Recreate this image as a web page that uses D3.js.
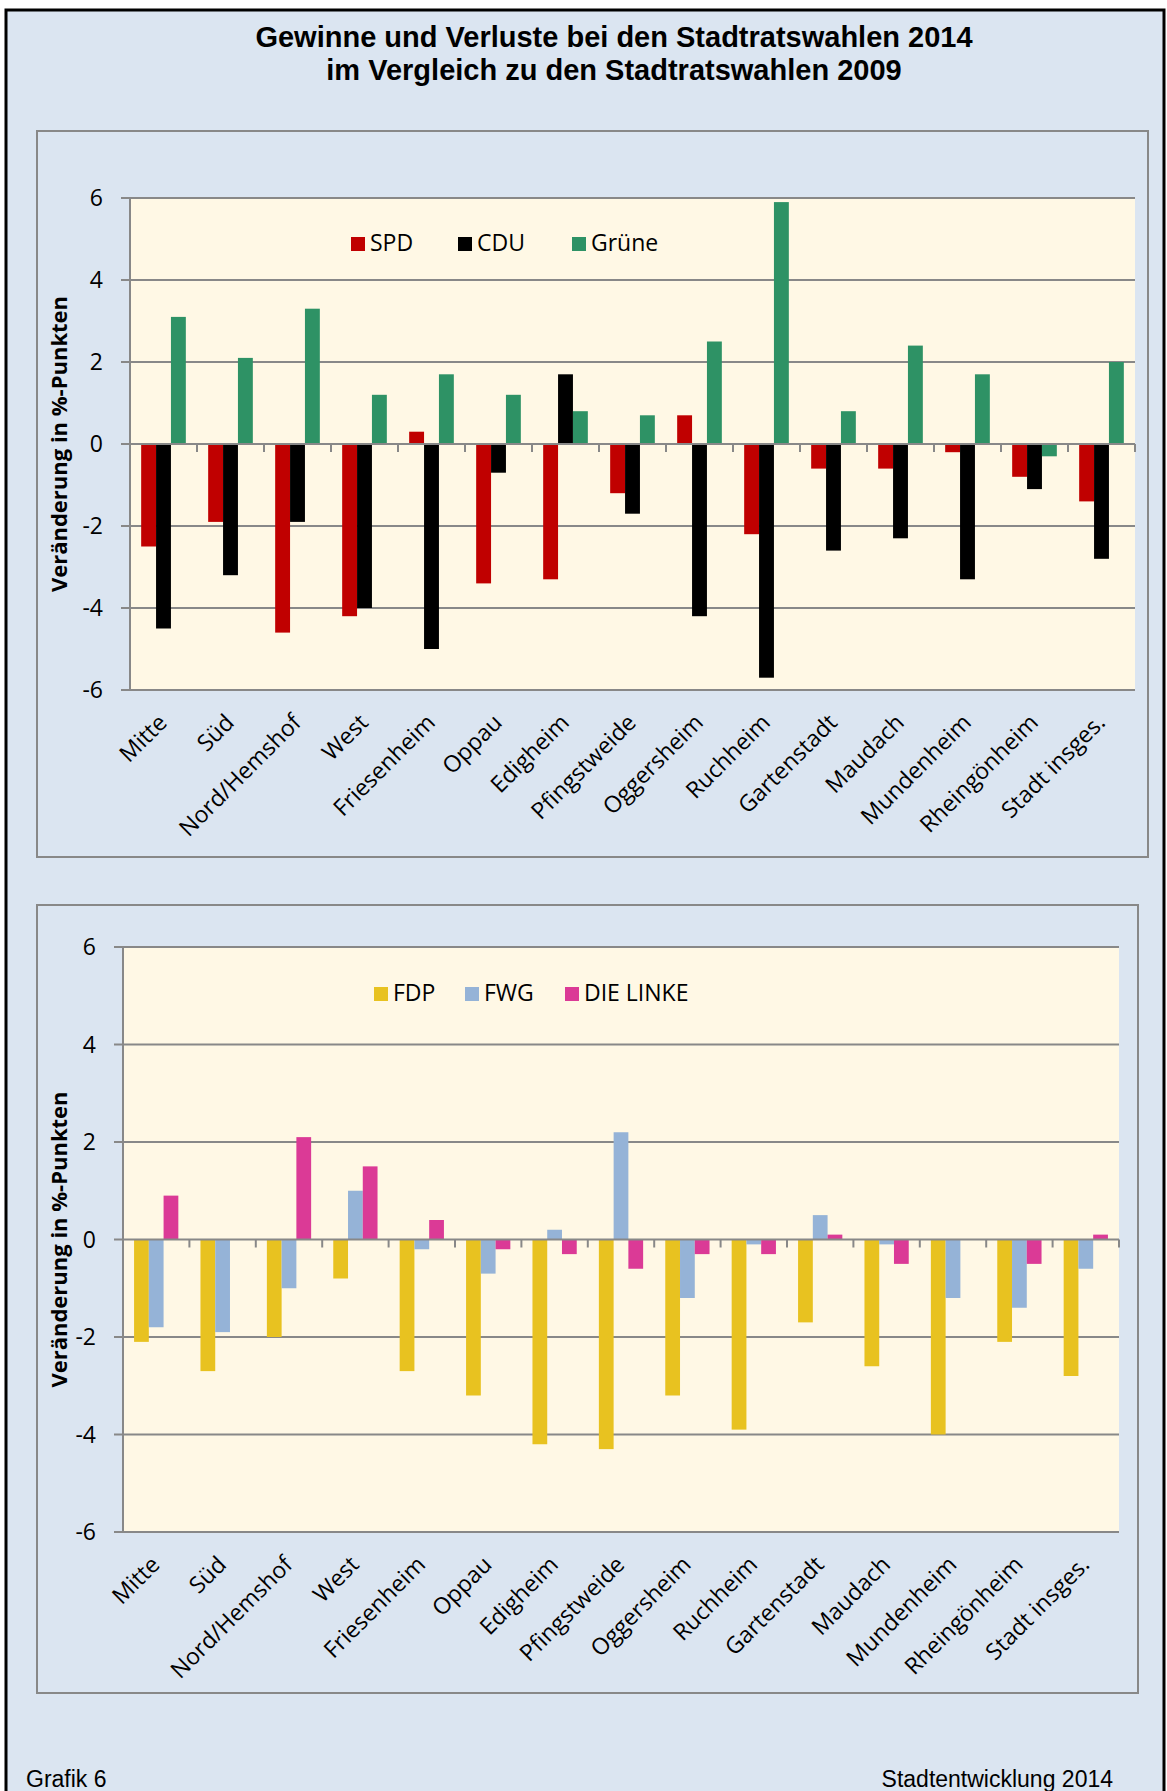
<!DOCTYPE html>
<html>
<head>
<meta charset="utf-8">
<script src="https://cdn.jsdelivr.net/npm/d3@7"></script>
<style>
  body { margin: 0; background: #ffffff; }
  svg text { font-family: "Open Sans", "Noto Sans", sans-serif; }
</style>
</head>
<body>
<svg id="chart" width="1167" height="1791"></svg>
<script>
// Data
const districts = ["Mitte", "Süd", "Nord/Hemshof", "West", "Friesenheim", "Oppau", "Edigheim",
    "Pfingstweide", "Oggersheim", "Ruchheim", "Gartenstadt", "Maudach", "Mundenheim",
    "Rheingönheim", "Stadt insges."];
const yTicks = [-6, -4, -2, 0, 2, 4, 6];

const spd   = [-2.5, -1.9, -4.6, -4.2, 0.3, -3.4, -3.3, -1.2, 0.7, -2.2, -0.6, -0.6, -0.2, -0.8, -1.4];
const cdu   = [-4.5, -3.2, -1.9, -4.0, -5.0, -0.7, 1.7, -1.7, -4.2, -5.7, -2.6, -2.3, -3.3, -1.1, -2.8];
const gruene = [3.1, 2.1, 3.3, 1.2, 1.7, 1.2, 0.8, 0.7, 2.5, 5.9, 0.8, 2.4, 1.7, -0.3, 2.0];

const fdp   = [-2.1, -2.7, -2.0, -0.8, -2.7, -3.2, -4.2, -4.3, -3.2, -3.9, -1.7, -2.6, -4.0, -2.1, -2.8];
const fwg   = [-1.8, -1.9, -1.0, 1.0, -0.2, -0.7, 0.2, 2.2, -1.2, -0.1, 0.5, -0.1, -1.2, -1.4, -0.6];
const linke = [0.9, 0, 2.1, 1.5, 0.4, -0.2, -0.3, -0.6, -0.3, -0.3, 0.1, -0.5, 0, -0.5, 0.1];

const svg = d3.select("#chart");
const bg = "#dbe5f1";
const gridColor = "#888888";
const arial = "'Liberation Sans', Arial, sans-serif";

// Outer frame
svg.append("rect").attr("x", 6).attr("y", 10).attr("width", 1158).attr("height", 1800)
    .attr("fill", bg).attr("stroke", "#000").attr("stroke-width", 3);

svg.append("text").attr("x", 614).attr("y", 47).attr("text-anchor", "middle")
    .style("font-family", arial).style("font-weight", "bold").style("font-size", "29px")
    .text("Gewinne und Verluste bei den Stadtratswahlen 2014");
svg.append("text").attr("x", 614).attr("y", 80).attr("text-anchor", "middle")
    .style("font-family", arial).style("font-weight", "bold").style("font-size", "29px")
    .text("im Vergleich zu den Stadtratswahlen 2009");

svg.append("text").attr("x", 26).attr("y", 1787)
    .style("font-family", arial).style("font-size", "23px")
    .text("Grafik 6");
svg.append("text").attr("x", 1113).attr("y", 1787).attr("text-anchor", "end")
    .style("font-family", arial).style("font-size", "23px")
    .text("Stadtentwicklung 2014");

function drawChart(cfg) {
    const g = svg.append("g");
    // panel
    g.append("rect").attr("x", cfg.panel[0]).attr("y", cfg.panel[1])
        .attr("width", cfg.panel[2] - cfg.panel[0]).attr("height", cfg.panel[3] - cfg.panel[1])
        .attr("fill", bg).attr("stroke", gridColor).attr("stroke-width", 2);

    const p = cfg.plot;
    g.append("rect").attr("x", p.left).attr("y", p.top)
        .attr("width", p.right - p.left).attr("height", p.bottom - p.top).attr("fill", "#fff8e5");

    const y = d3.scaleLinear().domain([-6, 6]).range([p.bottom, p.top]);
    const x0 = d3.scaleBand().domain(districts).range([p.left, p.right]).padding(0);
    const x1 = d3.scaleBand().domain(cfg.series.map(s => s.name)).range([0, x0.bandwidth()])
        .paddingInner(0).paddingOuter(0.75);

    // gridlines
    g.selectAll(".grid").data(yTicks.filter(t => t !== 0)).enter().append("line")
        .attr("x1", p.left - 9).attr("x2", p.right)
        .attr("y1", d => y(d)).attr("y2", d => y(d))
        .attr("stroke", gridColor).attr("stroke-width", 2);

    // bars
    cfg.series.forEach(s => {
        g.selectAll(null).data(s.values).enter().append("rect")
            .attr("x", (d, i) => x0(districts[i]) + x1(s.name))
            .attr("width", x1.bandwidth())
            .attr("y", d => y(Math.max(0, d)))
            .attr("height", d => Math.abs(y(d) - y(0)))
            .attr("fill", s.color);
    });

    // y axis
    g.append("line").attr("x1", p.left).attr("x2", p.left).attr("y1", p.top).attr("y2", p.bottom)
        .attr("stroke", gridColor).attr("stroke-width", 2);
    // zero axis with ticks at category boundaries
    g.append("line").attr("x1", p.left - 9).attr("x2", p.right).attr("y1", y(0)).attr("y2", y(0))
        .attr("stroke", gridColor).attr("stroke-width", 2);
    const bounds = districts.map(d => x0(d)).concat([p.right]);
    g.selectAll(null).data(bounds).enter().append("line")
        .attr("x1", d => d).attr("x2", d => d).attr("y1", y(0)).attr("y2", y(0) + 8)
        .attr("stroke", gridColor).attr("stroke-width", 2);

    // y tick labels
    g.selectAll(null).data(yTicks).enter().append("text")
        .attr("x", p.left - 27).attr("y", d => y(d)).attr("dy", "0.35em")
        .attr("text-anchor", "end").style("font-size", "23px").style("fill", "#000")
        .text(d => d);

    // y title
    g.append("text")
        .attr("transform", `translate(${cfg.titleX},${(p.top + p.bottom) / 2}) rotate(-90)`)
        .attr("text-anchor", "middle").attr("dy", "0.35em")
        .style("font-size", "22px").style("font-weight", "bold")
        .text("Veränderung in %-Punkten");

    // x labels
    g.selectAll(null).data(districts).enter().append("text")
        .attr("transform", d => `translate(${x0(d) + x0.bandwidth() / 2 + 5},${p.bottom + 34}) rotate(-45)`)
        .attr("text-anchor", "end").style("font-size", "23px")
        .text(d => d);

    // legend
    cfg.series.forEach((s, i) => {
        const lx = cfg.legend[i];
        g.append("rect").attr("x", lx).attr("y", cfg.legendY - 14).attr("width", 14).attr("height", 14)
            .attr("fill", s.color);
        g.append("text").attr("x", lx + 19).attr("y", cfg.legendY).style("font-size", "23px")
            .text(s.name);
    });
}

drawChart({
    panel: [37, 131, 1148, 857],
    plot: { left: 130, right: 1135, top: 198, bottom: 690 },
    titleX: 59,
    series: [
        { name: "SPD", values: spd, color: "#c00000" },
        { name: "CDU", values: cdu, color: "#000000" },
        { name: "Grüne", values: gruene, color: "#2e9265" }
    ],
    legend: [351, 458, 572],
    legendY: 251
});

drawChart({
    panel: [37, 905, 1138, 1693],
    plot: { left: 123, right: 1119, top: 947, bottom: 1532 },
    titleX: 59,
    series: [
        { name: "FDP", values: fdp, color: "#e8c220" },
        { name: "FWG", values: fwg, color: "#95b3d7" },
        { name: "DIE LINKE", values: linke, color: "#db3a96" }
    ],
    legend: [374, 465, 565],
    legendY: 1001
});
</script>
</body>
</html>
